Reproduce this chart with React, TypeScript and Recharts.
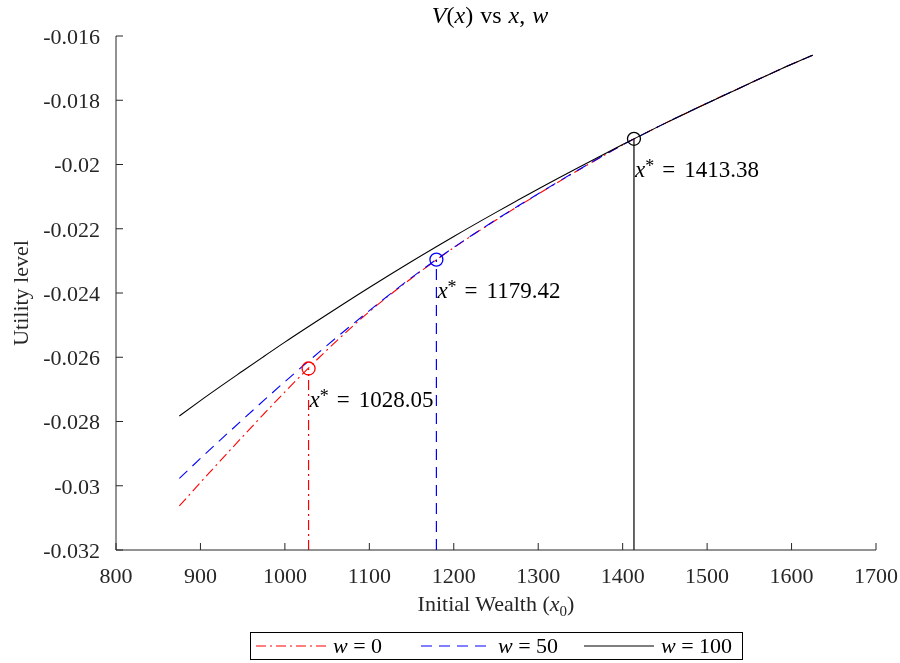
import React from 'react';
import { LineChart, Line, XAxis, YAxis, ReferenceLine, ReferenceDot, Legend } from 'recharts';

// Initial wealth grid and value function V(x) for each wage level w
const wealth = [875, 900, 950, 1000, 1050, 1100, 1150, 1200, 1250, 1300, 1350, 1400, 1450, 1500, 1550, 1600, 1625];
const utilityW0 = [-0.03063, -0.0299, -0.02847, -0.02708, -0.02577, -0.02458, -0.02354, -0.02259, -0.02173, -0.02092, -0.02014, -0.01939, -0.01872, -0.01809, -0.01748, -0.01688, -0.0166];
const utilityW50 = [-0.02977, -0.02915, -0.02794, -0.02676, -0.02563, -0.02455, -0.02352, -0.02258, -0.02172, -0.02091, -0.02013, -0.01939, -0.01872, -0.01809, -0.01748, -0.01688, -0.0166];
const utilityW100 = [-0.02783, -0.02735, -0.02643, -0.02553, -0.02467, -0.02383, -0.02302, -0.02224, -0.02149, -0.02076, -0.02006, -0.01938, -0.01872, -0.01809, -0.01748, -0.01688, -0.0166];

// Optimal wealth x* and its utility for each w
const wageLevels = [0, 50, 100];
const optimalWealth = [1028.05, 1179.42, 1413.38];
const optimalUtility = [-0.02635, -0.02296, -0.0192];

const xTicks = [800, 900, 1000, 1100, 1200, 1300, 1400, 1500, 1600, 1700];
const yTicks = [-0.032, -0.03, -0.028, -0.026, -0.024, -0.022, -0.02, -0.018, -0.016];

const FONT = '"Liberation Serif", "Times New Roman", serif';
const AXIS = '#262626';

const series = [
  { key: 'w0', color: '#ff0000', dash: '10 4 2 4', legendLeft: 5 },
  { key: 'w50', color: '#0000ff', dash: '11 7', legendLeft: 170 },
  { key: 'w100', color: '#000000', dash: undefined as string | undefined, legendLeft: 333 },
];

const table = wealth.map((x, i) => ({
  x,
  w0: utilityW0[i],
  w50: utilityW50[i],
  w100: utilityW100[i],
}));

const fmtY = (v: number) => String(Number(v.toFixed(3)));

function OptimumLabel(props: any) {
  const { viewBox, value } = props;
  const cx = viewBox.x + viewBox.width / 2;
  const cy = viewBox.y + viewBox.height / 2;
  return (
    <text x={cx + 1} y={cy + 38.5} fontFamily={FONT} fontSize={23} fill="#000">
      <tspan fontStyle="italic">x</tspan>
      <tspan dy={-5} fontSize={18}>*</tspan>
      <tspan dy={5} dx={8}>=</tspan>
      <tspan dx={9}>{value}</tspan>
    </text>
  );
}

function XLabel(props: any) {
  const { viewBox } = props;
  return (
    <text x={viewBox.x + viewBox.width / 2} y={viewBox.y + 61} textAnchor="middle" fontFamily={FONT} fontSize={22} fill={AXIS}>
      <tspan>Initial Wealth (</tspan>
      <tspan fontStyle="italic">x</tspan>
      <tspan dy={5} fontSize={15}>0</tspan>
      <tspan dy={-5}>)</tspan>
    </text>
  );
}

function YLabel(props: any) {
  const { viewBox } = props;
  const x = viewBox.x + 8;
  const y = viewBox.y + viewBox.height / 2;
  return (
    <text x={x} y={y} transform={`rotate(-90, ${x}, ${y})`} textAnchor="middle" fontFamily={FONT} fontSize={22} fill={AXIS}>
      Utility level
    </text>
  );
}

function LegendBox() {
  return (
    <div
      style={{
        width: 493,
        height: 28,
        border: '1.5px solid #000',
        boxSizing: 'border-box',
        background: '#fff',
        position: 'relative',
        fontFamily: FONT,
        fontSize: 22,
        color: '#000',
      }}
    >
      {series.map((s, i) => (
        <div
          key={s.key}
          style={{ position: 'absolute', left: s.legendLeft, top: 0, height: '100%', display: 'flex', alignItems: 'center', whiteSpace: 'nowrap' }}
        >
          <svg width={70} height={10} style={{ display: 'block' }}>
            <line x1={0} y1={5} x2={70} y2={5} stroke={s.color} strokeWidth={1.2} strokeDasharray={s.dash} />
          </svg>
          <span style={{ marginLeft: 7, lineHeight: '24px' }}>
            <i>w</i> = {wageLevels[i]}
          </span>
        </div>
      ))}
    </div>
  );
}

export default function App() {
  return (
    <div style={{ position: 'fixed', left: 8, top: 0, width: 892, height: 663 }}>
      <LineChart
        width={892}
        height={663}
        data={table}
        margin={{ top: 36, right: 24, left: 12, bottom: 43 }}
        style={{ fontFamily: FONT }}
      >
        <text x={482} y={23} textAnchor="middle" fontFamily={FONT} fontSize={24} fill="#000">
          <tspan fontStyle="italic">V</tspan>
          <tspan>(</tspan>
          <tspan fontStyle="italic">x</tspan>
          <tspan>)</tspan>
          <tspan dx={7}>vs</tspan>
          <tspan dx={7} fontStyle="italic">x</tspan>
          <tspan>,</tspan>
          <tspan dx={7} fontStyle="italic">w</tspan>
        </text>
        <XAxis
          dataKey="x"
          type="number"
          domain={[800, 1700]}
          ticks={xTicks}
          height={70}
          tickSize={-7}
          tickMargin={24}
          axisLine={{ stroke: AXIS, strokeWidth: 1 }}
          tickLine={{ stroke: AXIS }}
          tick={{ fill: AXIS, fontSize: 22, fontFamily: FONT }}
          interval={0}
          label={<XLabel />}
        />
        <YAxis
          type="number"
          domain={[-0.032, -0.016]}
          ticks={yTicks}
          width={96}
          tickSize={-7}
          tickMargin={23}
          tickFormatter={fmtY}
          axisLine={{ stroke: AXIS, strokeWidth: 1 }}
          tickLine={{ stroke: AXIS }}
          tick={{ fill: AXIS, fontSize: 22, fontFamily: FONT }}
          interval={0}
          label={<YLabel />}
        />
        {series.map((s, i) => (
          <ReferenceLine
            key={`v-${s.key}`}
            segment={[
              { x: optimalWealth[i], y: -0.032 },
              { x: optimalWealth[i], y: optimalUtility[i] },
            ]}
            stroke={s.color}
            strokeWidth={1.2}
            strokeDasharray={s.dash}
          />
        ))}
        {series.map((s, i) => (
          <Line
            key={s.key}
            dataKey={s.key}
            name={`w = ${wageLevels[i]}`}
            type="monotone"
            stroke={s.color}
            strokeWidth={1.1}
            strokeDasharray={s.dash}
            dot={false}
            activeDot={false}
            isAnimationActive={false}
          />
        ))}
        {series.map((s, i) => (
          <ReferenceDot
            key={`d-${s.key}`}
            x={optimalWealth[i]}
            y={optimalUtility[i]}
            r={6.5}
            fill="none"
            stroke={s.color}
            strokeWidth={1.3}
            label={<OptimumLabel value={optimalWealth[i].toFixed(2)} />}
          />
        ))}
        <Legend
          layout="horizontal"
          verticalAlign="middle"
          align="center"
          content={<LegendBox />}
          wrapperStyle={{ position: 'absolute', left: 242, top: 632, width: 493, height: 28 }}
        />
      </LineChart>
    </div>
  );
}
